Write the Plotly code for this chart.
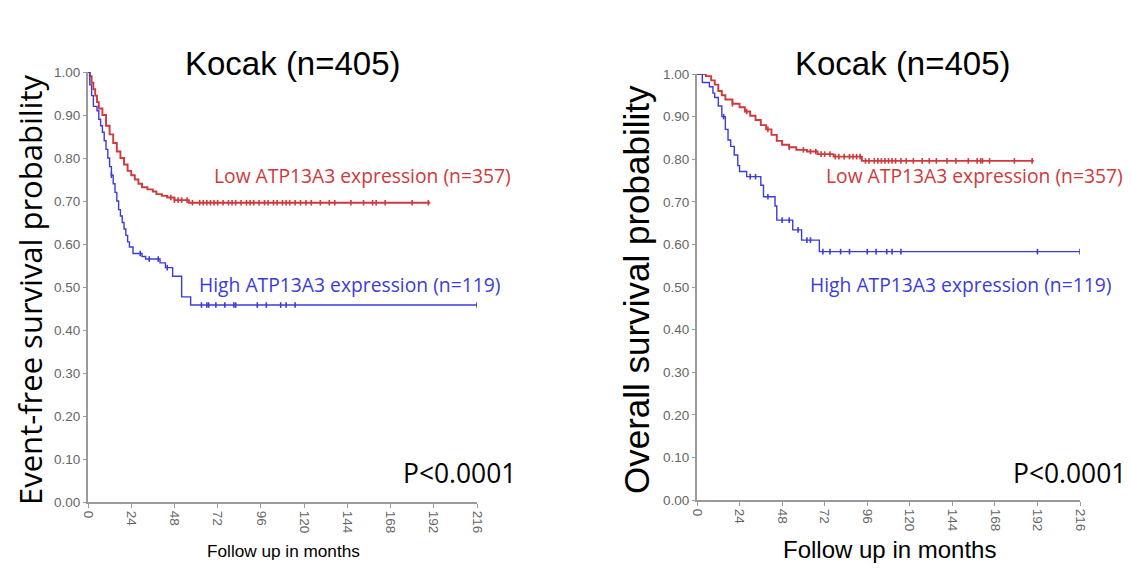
import numpy as np
import plotly.graph_objects as go

# ---------------- data ----------------
# Event-free survival (left panel)
efs_low_t = [0, 1, 2, 3, 4, 5, 6, 8, 10, 12, 14, 16, 18, 20, 22, 24, 26, 28, 30, 33, 36, 38, 41, 44, 48, 56, 190]
efs_low_s = [1.0, 0.99, 0.975, 0.96, 0.945, 0.93, 0.915, 0.9, 0.875, 0.855, 0.835, 0.815, 0.8, 0.785, 0.77, 0.76,
             0.75, 0.74, 0.732, 0.727, 0.722, 0.716, 0.712, 0.708, 0.702, 0.696, 0.696]
efs_low_cens = [46, 48, 50, 52, 55, 58, 62, 64, 66, 68, 70, 72, 75, 78, 80, 82, 85, 88, 90, 92, 95, 98, 100, 103,
                105, 108, 110, 112, 115, 118, 121, 124, 129, 134, 137, 146, 153, 158, 160, 165, 180, 189]

efs_high_t = [0, 1, 2, 3, 5, 6, 7, 8, 9, 10, 11, 12, 13, 14, 15, 16, 17, 18, 19, 20, 21, 22, 23, 25, 30, 32, 40,
              43, 47, 52, 57, 216]
efs_high_s = [1.0, 0.97, 0.945, 0.92, 0.91, 0.89, 0.875, 0.86, 0.84, 0.82, 0.8, 0.78, 0.76, 0.74, 0.72, 0.7, 0.68,
              0.665, 0.65, 0.635, 0.62, 0.605, 0.593, 0.578, 0.571, 0.565, 0.556, 0.545, 0.525, 0.477, 0.458, 0.458]
efs_high_cens = [13, 29, 34, 39, 44, 63, 66, 67, 71, 76, 81, 82, 94, 99, 107, 110, 115, 216]

# Overall survival (right panel)
os_low_t = [0, 5, 8, 10, 12, 14, 16, 20, 24, 27, 30, 33, 36, 39, 42, 45, 48, 52, 56, 62, 68, 77, 93, 190]
os_low_s = [1.0, 0.995, 0.985, 0.975, 0.96, 0.95, 0.94, 0.93, 0.922, 0.912, 0.902, 0.892, 0.88, 0.87, 0.857,
            0.843, 0.834, 0.828, 0.822, 0.818, 0.812, 0.806, 0.796, 0.796]
os_low_cens = [20, 28, 40, 52, 60, 64, 67, 70, 72, 75, 78, 80, 83, 86, 88, 90, 92, 95, 97, 100, 102, 104, 106,
               108, 110, 112, 115, 118, 122, 127, 131, 135, 141, 146, 153, 158, 160, 161, 165, 179, 189]

os_high_t = [0, 3, 7, 9, 10, 12, 14, 16, 17.5, 19, 21, 23, 24, 28, 36, 37.5, 44, 45, 54, 59, 69, 216]
os_high_s = [1.0, 0.98, 0.97, 0.955, 0.945, 0.925, 0.9, 0.87, 0.845, 0.83, 0.81, 0.785, 0.771, 0.759, 0.739,
             0.712, 0.69, 0.657, 0.634, 0.61, 0.583, 0.583]
os_high_cens = [15, 30, 33, 40, 48, 52, 57, 62, 64, 71, 75, 81, 86, 96, 101, 107, 110, 115, 192, 216]

x_ticks = [0, 24, 48, 72, 96, 120, 144, 168, 192, 216]
y_ticks = [0.0, 0.1, 0.2, 0.3, 0.4, 0.5, 0.6, 0.7, 0.8, 0.9, 1.0]

title_text = "Kocak (n=405)"
low_label = "Low ATP13A3 expression (n=357)"
high_label = "High ATP13A3 expression (n=119)"
p_text = "P<0.0001"

# ---------------- style ----------------
RED = "#d0393b"
BLUE = "#3c3cd8"
W, H = 1131, 568


def step_value(ts, ss, t):
    idx = np.searchsorted(np.array(ts), t, side="right") - 1
    return ss[max(idx, 0)]


fig = go.Figure()


def add_curve(ts, ss, cens, color, xa, ya, lw):
    fig.add_trace(go.Scatter(x=ts, y=ss, mode="lines", line=dict(color=color, width=lw, shape="hv"),
                             xaxis=xa, yaxis=ya, showlegend=False, hoverinfo="skip"))
    cy = [step_value(ts, ss, t) for t in cens]
    fig.add_trace(go.Scatter(x=cens, y=cy, mode="markers",
                             marker=dict(symbol="line-ns", size=4, line=dict(color=color, width=1.6)),
                             xaxis=xa, yaxis=ya, showlegend=False, hoverinfo="skip"))


add_curve(efs_low_t, efs_low_s, efs_low_cens, RED, "x", "y", 1.9)
add_curve(efs_high_t, efs_high_s, efs_high_cens, BLUE, "x", "y", 1.4)
add_curve(os_low_t, os_low_s, os_low_cens, RED, "x2", "y2", 1.9)
add_curve(os_high_t, os_high_s, os_high_cens, BLUE, "x2", "y2", 1.4)

AX_COLOR = "#9a9a9a"
TICK_FONT = dict(family="Liberation Sans, Arial", size=13.5, color="#666666")


def xaxis_cfg(x0, x1, anchor):
    return dict(domain=[x0 / W, x1 / W], range=[0, 216], tickvals=x_ticks, ticktext=[str(v) for v in x_ticks],
                tickangle=90, showline=True, linecolor=AX_COLOR, linewidth=2, ticks="outside", ticklen=4,
                tickcolor=AX_COLOR, tickfont=TICK_FONT, showgrid=False, zeroline=False, anchor=anchor,
                fixedrange=True)


def yaxis_cfg(ytop, ybot, anchor):
    return dict(domain=[1 - ybot / H, 1 - ytop / H], range=[0, 1], tickvals=y_ticks,
                ticktext=["%.2f" % v for v in y_ticks], showline=True, linecolor=AX_COLOR, linewidth=2,
                ticks="outside", ticklen=3, tickcolor=AX_COLOR, tickfont=TICK_FONT, showgrid=False,
                zeroline=False, anchor=anchor, fixedrange=True)


fig.update_layout(
    width=W, height=H,
    margin=dict(l=0, r=0, t=0, b=0, autoexpand=False),
    paper_bgcolor="white", plot_bgcolor="white",
    xaxis=xaxis_cfg(88, 477, "y"),
    yaxis=yaxis_cfg(72, 502, "x"),
    xaxis2=xaxis_cfg(697, 1080, "y2"),
    yaxis2=yaxis_cfg(74, 500, "x2"),
)

ann = []


def A(x, y, text, size, color="black", family="Liberation Sans, Arial", angle=0, xanchor="center"):
    ann.append(dict(x=x / W, y=1 - y / H, xref="paper", yref="paper", text=text, showarrow=False,
                    font=dict(family=family, size=size, color=color), textangle=angle,
                    xanchor=xanchor, yanchor="middle"))


CAL = "Open Sans, Lato, sans-serif"
# titles
A(293, 63, title_text, 33)
A(903, 63, title_text, 33)
# y axis titles
A(30, 290, "Event-free survival probability", 31, family=CAL, angle=-90)
A(636, 290, "Overall survival probability", 35, angle=-90)
# x axis titles
A(283, 551, "Follow up in months", 17.2)
A(889, 549, "Follow up in months", 24)
# group labels
A(513, 175, low_label, 19.3, color=RED, family=CAL, xanchor="right")
A(502, 284, high_label, 19.3, color=BLUE, family=CAL, xanchor="right")
A(1125, 175, low_label, 19.3, color=RED, family=CAL, xanchor="right")
A(1113, 284, high_label, 19.3, color=BLUE, family=CAL, xanchor="right")
# p-values
A(518, 473, p_text, 26.4, family=CAL, xanchor="right")
A(1128, 473, p_text, 26.4, family=CAL, xanchor="right")

fig.update_layout(annotations=ann)

fig.write_html("out.html", config={"displayModeBar": False},
               post_script="document.body.style.margin='0px';")
